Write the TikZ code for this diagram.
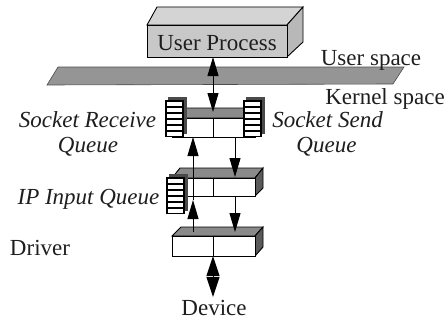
\documentclass[tikz,border=0pt]{standalone}
\usepackage{fontspec}
\setmainfont{Liberation Serif}
\usetikzlibrary{arrows.meta}
\definecolor{planegray}{HTML}{959595}
\definecolor{upfront}{HTML}{C8C8C8}
\definecolor{uptop}{HTML}{D4D4D4}
\definecolor{upside}{HTML}{B8B8B8}
\definecolor{topgray}{HTML}{8A8A8A}
\definecolor{sidegray}{HTML}{5A5A5A}
\definecolor{qback}{HTML}{4A4A4A}
\definecolor{ink}{HTML}{1E1E1E}
\begin{document}
\begin{tikzpicture}[x=1pt,y=-1pt,
  lbl/.style={font=\fontsize{23}{27}\selectfont, text=ink, anchor=base, inner sep=0pt},
  ilbl/.style={lbl, font=\fontsize{23}{27}\selectfont\itshape},
  arr/.style={line width=1pt, -{Triangle[length=19pt,width=11pt]}},
  darr/.style={line width=1pt, {Triangle[length=19pt,width=11pt]}-{Triangle[length=19pt,width=11pt]}},
  dev/.style={line width=1pt, {Triangle[length=20pt,width=13pt]}-{Triangle[length=20pt,width=13pt]}},
  edge/.style={draw=black, line width=0.9pt},
  queue/.pic={
    \fill[qback] (3,-3) rectangle (22,34);
    \fill[black] (0,0) rectangle (19,37);
    \foreach \i in {0,...,5} \fill[white] (2,2+6*\i) rectangle (16.5,5.5+6*\i);
  }]
\useasboundingbox (0,0) rectangle (446,321);

% kernel/user plane
\filldraw[fill=planegray, draw=black!70, line width=0.6pt]
  (47,85) -- (58,67) -- (404,67) -- (393,84) -- cycle;

% user process box
\filldraw[fill=uptop, edge] (147,25) -- (157,7) -- (303,7) -- (287,25) -- cycle;
\filldraw[fill=upside, edge] (287,25) -- (303,7) -- (303,42) -- (287,57) -- cycle;
\filldraw[fill=upfront, edge] (147,25) rectangle (287,57);
\node[lbl] (up) at (217,50) {User Process};
\coordinate (upb) at (213,57);

% socket layer
\filldraw[fill=topgray, edge] (172,118) -- (180,108) -- (263,108) -- (255,118) -- cycle;
\filldraw[fill=white, edge] (172,118) rectangle (255,137);
\draw[edge] (213,118) -- (213,137);

% IP layer
\filldraw[fill=topgray, edge] (172,178) -- (180,168) -- (263,168) -- (255,178) -- cycle;
\filldraw[fill=sidegray, edge] (255,178) -- (263,168) -- (263,188) -- (255,196) -- cycle;
\filldraw[fill=white, edge] (172,178) rectangle (255,196);
\draw[edge] (213,178) -- (213,196);

% driver layer
\filldraw[fill=topgray, edge] (172,236) -- (181,227) -- (263,227) -- (255,236) -- cycle;
\filldraw[fill=sidegray, edge] (255,236) -- (263,227) -- (263,247) -- (255,256) -- cycle;
\filldraw[fill=white, edge] (172,236) rectangle (255,256);
\draw[edge] (213,236) -- (213,256);

% queues
\pic at (165,100) {queue};
\pic at (243,100) {queue};
\pic at (166,177) {queue};

% connection points
\coordinate (sktop) at (213,112);
\coordinate (skupin) at (193,137);
\coordinate (skdnout) at (235,137);
\coordinate (iptopup) at (193,200);
\coordinate (iptopdn) at (235,177);
\coordinate (ipbotdn) at (235,196);
\coordinate (drvup) at (193,232);
\coordinate (drvdn) at (235,232);
\coordinate (drvbot) at (213,256);
\coordinate (devtop) at (213,297);

% arrows
\draw[darr] (upb) -- (sktop);
\draw[arr] (iptopup) -- (skupin);
\draw[arr] (skdnout) -- (iptopdn);
\draw[arr] (drvup) -- (iptopup);
\draw[arr] (ipbotdn) -- (drvdn);
\draw[dev] (drvbot) -- (devtop);

% labels
\node[lbl] (us) at (371,65) {User space};
\node[lbl] (ks) at (385,104) {Kernel space};
\node[ilbl] (srq1) at (87.5,127) {Socket Receive};
\node[ilbl] (srq2) at (88,152) {Queue};
\node[ilbl] (ssq1) at (327.5,127) {Socket Send};
\node[ilbl] (ssq2) at (326.5,152) {Queue};
\node[ilbl] (ipq) at (88.5,204) {IP Input Queue};
\node[lbl] (drv) at (40,255) {Driver};
\node[lbl] (device) at (214,315) {Device};
\end{tikzpicture}
\end{document}
